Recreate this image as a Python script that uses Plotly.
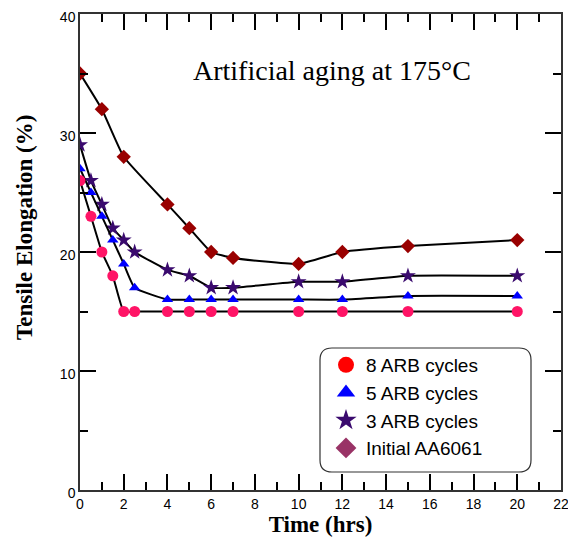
import plotly.graph_objects as go

time_init = [0, 1, 2, 4, 5, 6, 7, 10, 12, 15, 20]
elong_init = [35, 32, 28, 24, 22, 20, 19.5, 19, 20, 20.5, 21]

time_arb = [0, 0.5, 1, 1.5, 2, 2.5, 4, 5, 6, 7, 10, 12, 15, 20]
elong_3 = [29, 26, 24, 22, 21, 20, 18.5, 18, 17, 17, 17.5, 17.5, 18, 18]
elong_5 = [27, 25, 23, 21, 19, 17, 16, 16, 16, 16, 16, 16, 16.3, 16.3]
elong_8 = [26, 23, 20, 18, 15, 15, 15, 15, 15, 15, 15, 15, 15, 15]

legend_names = ["8 ARB cycles", "5 ARB cycles", "3 ARB cycles", "Initial AA6061"]

fig = go.Figure()

line = dict(color="black", width=2, shape="spline", smoothing=0.4)

fig.add_trace(go.Scatter(x=time_init, y=elong_init, mode="lines+markers", line=line,
                         marker=dict(symbol="diamond", size=11, color="#990000"), showlegend=False))
fig.add_trace(go.Scatter(x=time_arb, y=elong_3, mode="lines+markers", line=line,
                         marker=dict(symbol="star", size=12, color="#3a0a6e"), showlegend=False))
fig.add_trace(go.Scatter(x=time_arb, y=elong_5, mode="lines+markers", line=line,
                         marker=dict(symbol="triangle-up", size=10, color="#0000ff"), showlegend=False))
fig.add_trace(go.Scatter(x=time_arb, y=elong_8, mode="lines+markers", line=line,
                         marker=dict(symbol="circle", size=11, color="#ff1466"), showlegend=False))

# legend entries
leg_styles = [("circle", "#ff0000"), ("triangle-up", "#0000ff"), ("star", "#3a0a6e"), ("diamond", "#993366")]
for name, (sym, col) in zip(legend_names, leg_styles):
    fig.add_trace(go.Scatter(x=[None], y=[None], mode="markers", name=name,
                             marker=dict(symbol=sym, size=18, color=col)))

axis_common = dict(showline=True, linecolor="#333333", linewidth=1.5, mirror="ticks",
                   ticks="inside", ticklen=16, tickwidth=1.5, tickcolor="black",
                   showgrid=False, zeroline=False, automargin=False, ticklabeloverflow="allow",
                   tickfont=dict(family="Arial", size=14, color="black"))

fig.update_xaxes(range=[0, 22], tickvals=list(range(0, 23, 2)),
                 minor=dict(ticks="inside", ticklen=8, tickwidth=1.5, tickcolor="black", dtick=1, tick0=0),
                 title=dict(text="<b>Time (hrs)</b>", font=dict(family="Times New Roman, Liberation Serif", size=23, color="black"), standoff=0),
                 **axis_common)
fig.update_yaxes(range=[0, 40], tickvals=[0, 10, 20, 30, 40], ticklabelshift=3,
                 minor=dict(ticks="inside", ticklen=8, tickwidth=1.5, tickcolor="black", dtick=5, tick0=0),
                 **axis_common)

# page pixel -> paper helpers (plot area spans x 80..561, y 14..490 on the page)
PX0, PX1, PY0, PY1 = 80, 561, 14, 490
def px(x):
    return (x - PX0) / (PX1 - PX0)
def py(y):
    return (PY1 - y) / (PY1 - PY0)

# rounded legend box (paper coords)
x0p, x1p = px(320), px(531)
y0p, y1p = py(472), py(348)
rx, ry = 12 / (PX1 - PX0), 12 / (PY1 - PY0)
path = (f"M {x0p+rx},{y1p} L {x1p-rx},{y1p} Q {x1p},{y1p} {x1p},{y1p-ry} "
        f"L {x1p},{y0p+ry} Q {x1p},{y0p} {x1p-rx},{y0p} L {x0p+rx},{y0p} "
        f"Q {x0p},{y0p} {x0p},{y0p+ry} L {x0p},{y1p-ry} Q {x0p},{y1p} {x0p+rx},{y1p} Z")
fig.add_shape(type="path", path=path, xref="paper", yref="paper",
              line=dict(color="#333333", width=1.2), fillcolor="white", layer="below")

fig.update_layout(
    width=568, height=534,
    margin=dict(l=72, r=15, t=6, b=52),
    plot_bgcolor="white", paper_bgcolor="white",
    legend=dict(x=px(326), y=py(346), xanchor="left", yanchor="top",
                bgcolor="rgba(0,0,0,0)", borderwidth=0,
                font=dict(family="Arial", size=19, color="black"),
                itemsizing="trace", tracegroupgap=0),
    annotations=[
        dict(text="Artificial aging at 175°C", x=px(332), y=py(70),
             xref="paper", yref="paper", showarrow=False, xanchor="center", yanchor="middle",
             font=dict(family="Liberation Serif, Times New Roman", size=28, color="black")),
        dict(text="<b>Tensile Elongation (%)</b>", x=px(25), y=py(228), xref="paper", yref="paper",
             showarrow=False, textangle=-90, xanchor="center", yanchor="middle",
             font=dict(family="Times New Roman, Liberation Serif", size=23, color="black")),
    ],
)

fig.write_html("out.html")
